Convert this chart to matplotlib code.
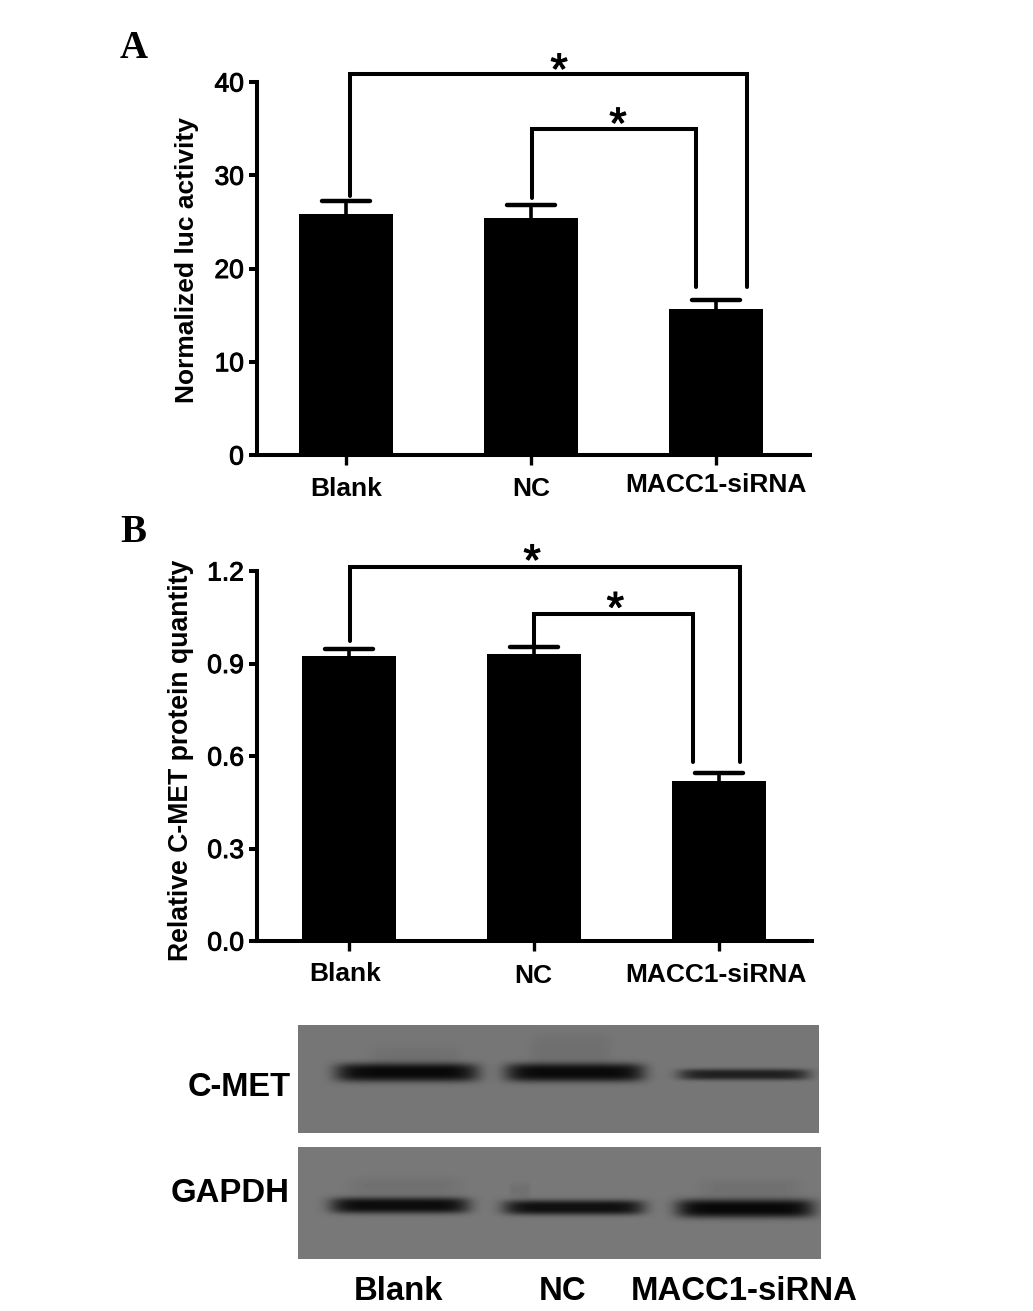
import numpy as np
import matplotlib
matplotlib.use("Agg")
import matplotlib.pyplot as plt
import matplotlib.patheffects as pe
from matplotlib.transforms import ScaledTranslation

W, H = 1033, 1311
plt.rcParams['font.family'] = ['Liberation Sans', 'DejaVu Sans']

categories = ['Blank', 'NC', 'MACC1-siRNA']
values_a = [25.8, 25.4, 15.7]
err_a = [1.4, 1.4, 0.9]
yticks_a = [0, 10, 20, 30, 40]
values_b = [0.925, 0.93, 0.52]
err_b = [0.022, 0.024, 0.024]
yticks_b = [0.0, 0.3, 0.6, 0.9, 1.2]
ytick_labels_b = ['0.0', '0.3', '0.6', '0.9', '1.2']

# brackets: x-left, x-right, y-top, y-end-left, y-end-right (data units)
brackets_a = [(0.02, 2.168, 40.85, 27.8, 18.0), (1.005, 1.89, 34.95, 27.6, 18.0)]
brackets_b = [(0.005, 2.114, 1.213, 0.974, 0.58), (1.0, 1.86, 1.06, 0.96, 0.58)]
stars_a = [(1.152, 41.0), (1.47, 35.2)]
stars_b = [(0.99, 1.224), (1.44, 1.07)]
# label nudges in pixels (x, y-down)
label_nudge_a = [(0, 0), (0, 0), (0, -4)]
label_nudge_b = [(-4, -1), (-1, 1), (-3, 0)]

# blot panels: x0, x1, y0, y1 in pixels
blot_boxes = [(298, 819, 1025, 1133), (298, 821, 1147, 1259)]
# bands: x0, x1, y centre, height, darkness
blot_bands = [
    [(335, 478, 1072, 15, 108), (505, 644, 1072, 15, 108), (678, 809, 1074, 9, 85),
     (370, 460, 1058, 20, 6), (530, 610, 1050, 26, 7)],
    [(330, 469, 1205, 13, 108), (503, 644, 1207, 12, 105), (676, 814, 1208, 15, 112),
     (350, 460, 1186, 14, 7), (510, 530, 1190, 12, 7), (700, 800, 1188, 14, 7)],
]
blot_gray = [118, 120]

LW = 2.9
CAP_HALF = 0.13


def ax_px(x0, x1, y0, y1, **kw):
    return fig.add_axes([x0 / W, 1 - y1 / H, (x1 - x0) / W, (y1 - y0) / H], **kw)


def bar_panel(box, xlim, ylim, values, errs, yticks, ylabels, ylabel, brackets, stars,
              ylabel_x, ylabel_y, ylabel_size, nudges):
    ax = ax_px(*box)
    x = np.arange(len(categories))
    tops = np.array(values) + np.array(errs)
    ax.bar(x, values, width=0.508, color='black', zorder=3)
    ax.vlines(x, values, tops, color='black', lw=2.6, zorder=2)
    ax.hlines(tops, x - CAP_HALF, x + CAP_HALF, color='black', lw=3.2, zorder=2, capstyle='round')
    ax.set_xlim(*xlim)
    ax.set_ylim(*ylim)
    ax.set_xticks(x, categories)
    ax.set_yticks(yticks, ylabels)
    ax.tick_params(axis='x', width=2.4, length=7.5, labelsize=19, pad=8)
    ax.tick_params(axis='y', width=2.9, length=5.5, labelsize=19, pad=4)
    for lab, (dx, dy) in zip(ax.get_xticklabels(), nudges):
        lab.set_fontweight('bold')
        lab.set_transform(lab.get_transform() + ScaledTranslation(dx / 100, -dy / 100, fig.dpi_scale_trans))
    for lab in ax.get_yticklabels():
        lab.set_path_effects([pe.withStroke(linewidth=0.7, foreground='black')])
    for s in ('top', 'right'):
        ax.spines[s].set_visible(False)
    for s in ('left', 'bottom'):
        ax.spines[s].set_linewidth(LW)
    for (xl, xr, yt, el, er) in brackets:
        ax.plot([xl, xl, xr, xr], [el, yt, yt, er], color='black', lw=LW,
                clip_on=False, solid_joinstyle='miter', solid_capstyle='round')
    for (sx, sy) in stars:
        ax.text(sx, sy, '*', fontsize=32, ha='center', va='center', color='black', clip_on=False,
                path_effects=[pe.withStroke(linewidth=0.8, foreground='black')])
    fig.text(ylabel_x / W, 1 - ylabel_y / H, ylabel, rotation=90, ha='center', va='center',
             fontsize=ylabel_size, fontweight='bold')
    return ax


fig = plt.figure(figsize=(W / 100, H / 100), dpi=100, facecolor='white')

bar_panel((257, 810, 82, 455), (-0.481, 2.508), (0, 40), values_a, err_a, yticks_a,
          [str(t) for t in yticks_a], 'Normalized luc activity', brackets_a, stars_a,
          187, 260, 19, label_nudge_a)
bar_panel((257, 812, 571, 941), (-0.497, 2.503), (0, 1.2), values_b, err_b, yticks_b,
          ytick_labels_b, 'Relative C-MET protein quantity', brackets_b, stars_b,
          181, 760, 19.2, label_nudge_b)

# western blot panels
for box, bands, gray in zip(blot_boxes, blot_bands, blot_gray):
    x0, x1, y0, y1 = box
    ax = ax_px(x0, x1, y0, y1)
    X, Y = np.meshgrid(np.arange(x0, x1), np.arange(y0, y1))
    img = np.full(X.shape, float(gray))
    for bx0, bx1, by, bh, dark in bands:
        cx, hw = (bx0 + bx1) / 2, (bx1 - bx0) / 2
        prof = np.exp(-np.abs((X - cx) / hw) ** 8) * np.exp(-np.abs((Y - by) / (bh * 0.62)) ** 3)
        img -= dark * prof
    ax.imshow(img, cmap='gray', vmin=0, vmax=255, aspect='auto',
              extent=(x0, x1, y1, y0), interpolation='bilinear')
    ax.axis('off')

fig.text(291 / W, 1 - 1087 / H, 'C-MET', ha='right', va='center', fontsize=23.5, fontweight='bold')
fig.text(290 / W, 1 - 1194 / H, 'GAPDH', ha='right', va='center', fontsize=23.7, fontweight='bold')
for label, cx in zip(categories, (398, 563, 744)):
    fig.text(cx / W, 1 - 1292 / H, label, ha='center', va='center', fontsize=23.7, fontweight='bold')

fig.text(134 / W, 1 - 48 / H, 'A', ha='center', va='center', fontsize=28, fontweight='bold', family='Liberation Serif')
fig.text(133 / W, 1 - 533 / H, 'B', ha='center', va='center', fontsize=28, fontweight='bold', family='Liberation Serif')

fig.savefig('out.png', dpi=100, facecolor='white')
